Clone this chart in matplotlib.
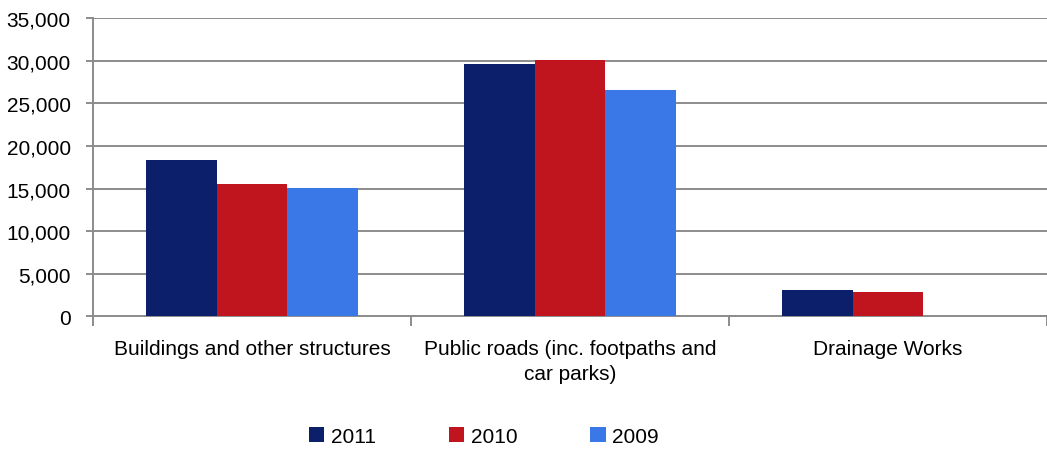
import numpy as np
import matplotlib
matplotlib.use("Agg")
import matplotlib.pyplot as plt
from matplotlib.ticker import FuncFormatter, FixedLocator

plt.rcParams["font.family"] = ["Liberation Sans", "DejaVu Sans"]

# Spend by category and year
categories = ["Buildings and other structures",
              "Public roads (inc. footpaths and\ncar parks)",
              "Drainage Works"]
years = ["2011", "2010", "2009"]
values_2011 = [18300, 29650, 3100]
values_2010 = [15500, 30100, 2870]
values_2009 = [15050, 26600, np.nan]
colors = ["#0b1f6b", "#c0141f", "#3a78e8"]

fig = plt.figure(figsize=(10.47, 4.52), dpi=100)
ax = fig.add_axes([0.0888, 0.2976, 0.9112, 0.6604])

x = np.arange(len(categories))
width = 0.223
for i, (vals, label) in enumerate(zip([values_2011, values_2010, values_2009], years)):
    ax.bar(x + (i - 1) * width, vals, width, color=colors[i], label=label,
           zorder=3, edgecolor="none")

ax.set_xlim(-0.5, 2.5)
ax.set_ylim(0, 35000)
ax.set_yticks(np.arange(0, 35001, 5000))
ax.yaxis.set_major_formatter(FuncFormatter(lambda v, p: f"{int(v):,}"))
ax.yaxis.grid(True, color="#8c8c8c", linewidth=1.4, zorder=0)

ax.set_xticks(x)
ax.set_xticklabels(categories, linespacing=1.45)
ax.xaxis.set_minor_locator(FixedLocator([-0.5, 0.5, 1.5, 2.5]))
ax.tick_params(axis="x", which="major", length=0, pad=16, labelsize=15)
ax.tick_params(axis="x", which="minor", length=7, width=1.4, color="#8c8c8c")
ax.tick_params(axis="y", length=5, width=1.4, color="#8c8c8c", pad=11, labelsize=15)

for side in ("top", "right"):
    ax.spines[side].set_visible(False)
for side in ("left", "bottom"):
    ax.spines[side].set_color("#8c8c8c")
    ax.spines[side].set_linewidth(1.4)

fig.legend(loc="center", bbox_to_anchor=(0.462, 0.033), ncol=3, frameon=False,
           fontsize=15, handlelength=0.75, handleheight=0.75, handletextpad=0.3,
           columnspacing=3.5)

fig.savefig("out.png", dpi=100)
